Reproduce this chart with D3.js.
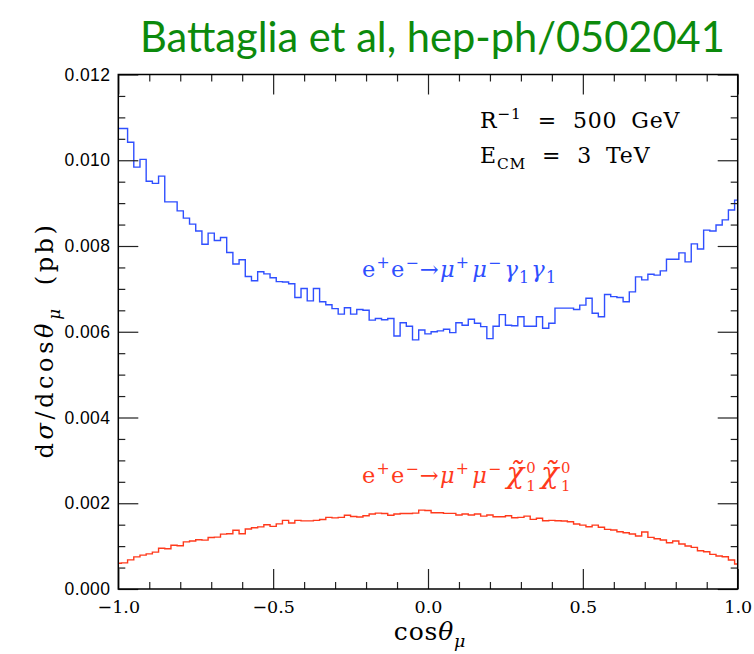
<!DOCTYPE html>
<html><head><meta charset="utf-8">
<script src="https://cdn.jsdelivr.net/npm/d3@7"></script>
<style>body{margin:0;background:#fff} svg{display:block}</style>
</head><body>
<svg id="c" width="754" height="654"></svg>
<script>
// ---- data (cross sections in units of 1e-3 pb), bin centres from -1 to 1 in steps of 0.02
const binStart = -1, binStep = 0.02, unit = 1e-3;
const muGammaValues = [
 10.74,10.74,10.42,9.84,10.02,9.51,9.46,9.63,9.03,9.03,
 8.82,8.65,8.51,8.35,8.04,8.30,8.13,8.20,7.85,7.58,
 7.68,7.29,7.19,7.40,7.35,7.26,7.17,7.16,7.12,6.80,
 7.01,6.72,7.01,6.70,6.63,6.54,6.41,6.56,6.41,6.52,
 6.50,6.27,6.31,6.28,6.31,5.90,6.21,6.13,5.81,6.04,
 5.95,6.00,6.02,6.06,5.98,6.21,6.15,6.29,6.20,6.12,
 5.84,6.13,6.40,6.15,6.14,6.35,6.13,6.13,6.35,6.08,
 6.20,6.55,6.55,6.55,6.52,6.62,6.78,6.43,6.35,6.87,
 6.82,6.80,6.70,6.93,7.28,7.21,7.34,7.32,7.42,7.69,
 7.69,7.84,7.63,8.05,7.93,8.37,8.35,8.49,8.61,8.84,
 9.07];
const muChiValues = [
 0.60,0.61,0.68,0.75,0.79,0.82,0.86,0.95,0.94,1.02,
 1.01,1.10,1.12,1.15,1.14,1.20,1.21,1.28,1.29,1.37,
 1.29,1.40,1.43,1.45,1.50,1.46,1.52,1.60,1.54,1.60,
 1.59,1.59,1.60,1.62,1.67,1.66,1.67,1.72,1.69,1.68,
 1.71,1.75,1.77,1.76,1.72,1.75,1.76,1.76,1.77,1.84,
 1.83,1.78,1.78,1.765,1.765,1.725,1.75,1.725,1.75,1.70,
 1.725,1.686,1.686,1.71,1.663,1.67,1.70,1.624,1.65,1.593,
 1.60,1.593,1.585,1.57,1.515,1.49,1.453,1.49,1.44,1.39,
 1.375,1.336,1.313,1.282,1.235,1.33,1.204,1.173,1.142,1.08,
 1.119,1.049,1.002,0.971,0.893,0.87,0.808,0.769,0.753,0.676,
 0.582];
const xTickValues = [-1, -0.5, 0, 0.5, 1];
const xMinorValues = [-0.9,-0.8,-0.7,-0.6,-0.4,-0.3,-0.2,-0.1,0.1,0.2,0.3,0.4,0.6,0.7,0.8,0.9];
const yTickValues = [0, 0.002, 0.004, 0.006, 0.008, 0.010, 0.012];
const yMinorValues = [0.0005,0.001,0.0015,0.0025,0.003,0.0035,0.0045,0.005,0.0055,0.0065,0.007,0.0075,0.0085,0.009,0.0095,0.0105,0.011,0.0115];
const titleText = "Battaglia et al, hep-ph/0502041";

// ---- layout
const svg = d3.select('#c');
const L = 118.3, R = 737.7, T = 74.5, B = 589;
const x = d3.scaleLinear().domain([-1, 1]).range([L, R]);
const y = d3.scaleLinear().domain([0, 0.012]).range([B, T]);
const blue = '#2f4fff', red = '#ff3a1c';
const serif = "'DejaVu Serif', serif";

// title
const title = svg.append('text').attr('x', 140).attr('y', 52)
  .attr('font-family', "Lato, 'Open Sans', sans-serif").attr('font-size', 100)
  .attr('fill', '#0c8a0c').text(titleText);
const tw = title.node().getComputedTextLength();
title.attr('font-size', 100 * 585 / tw);

// histograms
function pts(vals) { return vals.map((v, i) => [binStart + binStep * i, v * unit]); }
const line = d3.line().x(d => x(d[0])).y(d => y(d[1])).curve(d3.curveStep);
svg.append('path').attr('d', line(pts(muChiValues))).attr('fill', 'none')
  .attr('stroke', red).attr('stroke-width', 1.4);
svg.append('path').attr('d', line(pts(muGammaValues))).attr('fill', 'none')
  .attr('stroke', blue).attr('stroke-width', 1.4);

// axes (inward ticks on all four sides)
function ax(gen, tr, vals, size, labels) {
  const g = svg.append('g').attr('transform', tr)
    .call(gen.tickValues(vals).tickSize(size).tickSizeOuter(0).tickPadding(8));
  g.select('.domain').remove();
  g.selectAll('.tick line').attr('stroke', '#222').attr('stroke-width', 1.2);
  if (!labels) g.selectAll('.tick text').remove();
  return g;
}
const gx = ax(d3.axisBottom(x).tickFormat(d3.format('.1f')), `translate(0,${B})`, xTickValues, -20, true);
gx.selectAll('.tick text').attr('y', 12).attr('font-family', serif).attr('font-size', 17.5).attr('fill', '#000');
ax(d3.axisBottom(x), `translate(0,${B})`, xMinorValues, -7, false);
ax(d3.axisTop(x), `translate(0,${T})`, xTickValues, -20, false);
ax(d3.axisTop(x), `translate(0,${T})`, xMinorValues, -7, false);
const gy = ax(d3.axisLeft(y).tickFormat(d3.format('.3f')), `translate(${L},0)`, yTickValues, -20, true);
gy.selectAll('.tick text').attr('x', -8).attr('font-family', "'Liberation Sans', Arial, sans-serif")
  .attr('font-size', 17.5).attr('letter-spacing', 0.4).attr('fill', '#000');
ax(d3.axisLeft(y), `translate(${L},0)`, yMinorValues, -7, false);
ax(d3.axisRight(y), `translate(${R},0)`, yTickValues, -20, false);
ax(d3.axisRight(y), `translate(${R},0)`, yMinorValues, -7, false);
svg.append('rect').attr('x', L).attr('y', T).attr('width', R - L).attr('height', B - T)
  .attr('fill', 'none').attr('stroke', '#000').attr('stroke-width', 1.5);

// rich text helper
function rich(g, x0, y0, parts, size, color, fam, ls) {
  let cx = x0;
  ls = ls || 0;
  parts.forEach(p => {
    const mk = (txt, dy, fs, it) => g.append('text').attr('x', cx).attr('y', y0 + dy)
      .attr('font-size', fs).attr('font-family', p.fam || fam).attr('fill', color)
      .attr('letter-spacing', ls)
      .attr('font-style', it ? 'italic' : 'normal').text(txt);
    let w;
    if (p.stack) {
      const a = mk(p.stack[0], -size * 0.45, size * 0.66, false);
      const b = mk(p.stack[1], size * 0.36, size * 0.66, false);
      w = Math.max(a.node().getComputedTextLength(), b.node().getComputedTextLength());
    } else {
      const fs = (p.s ? size * 0.7 : size) * (p.k || 1);
      const dy = p.s === 'sup' ? -size * 0.42 : p.s === 'sub' ? size * 0.28 : 0;
      const t = mk(p.t, dy, fs, p.i);
      w = t.node().getComputedTextLength();
    }
    cx += w + (p.gap || 0);
  });
  return cx - x0;
}

// annotations
rich(svg, 480, 128, [{t: 'R'}, {t: '−1', s: 'sup', gap: 16}, {t: '=', gap: 16}, {t: '500', gap: 14}, {t: 'GeV'}], 22, '#000', serif, 0.8);
rich(svg, 480, 163, [{t: 'E'}, {t: 'CM', s: 'sub', gap: 16}, {t: '=', gap: 16}, {t: '3', gap: 14}, {t: 'TeV'}], 22, '#000', serif, 0.8);

rich(svg, 362, 277, [{t: 'e'}, {t: '+', s: 'sup'}, {t: 'e'}, {t: '−', s: 'sup'}, {t: '→'},
  {t: 'μ', i: true}, {t: '+', s: 'sup', gap: 2}, {t: 'μ', i: true}, {t: '−', s: 'sup', gap: 2},
  {t: 'γ', i: true}, {t: '1', s: 'sub', gap: 1}, {t: 'γ', i: true}, {t: '1', s: 'sub'}], 22.5, blue, serif, 1.2);

rich(svg, 362, 483, [{t: 'e'}, {t: '+', s: 'sup'}, {t: 'e'}, {t: '−', s: 'sup'}, {t: '→'},
  {t: 'μ', i: true}, {t: '+', s: 'sup', gap: 2}, {t: 'μ', i: true}, {t: '−', s: 'sup', gap: 4},
  {t: 'χ̃', i: true, k: 1.3, gap: 1}, {stack: ['0', '1'], gap: 4}, {t: 'χ̃', i: true, k: 1.3, gap: 1}, {stack: ['0', '1']}], 22.5, red, serif, 1.2);

// x title
const gxt = svg.append('g');
const wx = rich(gxt, 0, 640, [{t: 'cos'}, {t: 'θ', i: true}, {t: 'μ', s: 'sub', i: true}], 25, '#000', serif, 0.8);
gxt.attr('transform', `translate(${430 - wx / 2},0)`);
// y title
const gyt = svg.append('g');
const wy = rich(gyt, 0, 0, [{t: 'd'}, {t: 'σ', i: true}, {t: '/dcos'}, {t: 'θ', i: true}, {t: 'μ', s: 'sub', i: true, gap: 20}, {t: '(pb)'}], 24, '#000', serif, 3.6);
gyt.attr('transform', `translate(53,${340 + wy / 2}) rotate(-90)`);
</script>
</body></html>
